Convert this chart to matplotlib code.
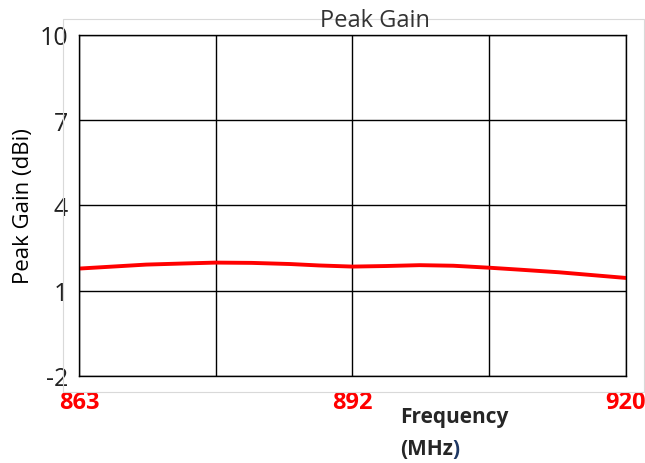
import matplotlib.pyplot as plt
from matplotlib.patches import Rectangle

freq = [863, 867, 870, 874, 877.25, 881, 885, 888, 891.5, 895, 898.5, 902, 905.75, 909, 913, 916.5, 920]
gain = [1.78, 1.86, 1.92, 1.96, 1.99, 1.98, 1.94, 1.89, 1.85, 1.87, 1.90, 1.88, 1.81, 1.74, 1.65, 1.55, 1.45]

x_ticks = [863, 891.5, 920]
x_labels = ['863', '892', '920']
y_ticks = [-2, 1, 4, 7, 10]

plt.rcParams['font.family'] = ['Open Sans', 'DejaVu Sans']
plt.rcParams['axes.unicode_minus'] = False

fig = plt.figure(figsize=(6.45, 4.64), dpi=100)
ax = fig.add_axes([0.1225, 0.1875, 0.848, 0.735])

# light frame around the chart area
fig.patches.append(Rectangle((63 / 645, 1 - 393 / 464), (644 - 63) / 645, (393 - 20) / 464,
                             transform=fig.transFigure, fill=False, edgecolor='#d9d9d9', lw=0.8))

ax.plot(freq, gain, color='#ff0000', lw=2.8)

ax.set_xlim(863, 920)
ax.set_ylim(-2, 10)
ax.set_yticks(y_ticks)
ax.set_xticks([863 + i * 14.25 for i in range(5)], minor=True)
ax.set_xticks(x_ticks)
ax.set_xticklabels(x_labels, color='#ff0000', fontweight='bold', fontsize=17)
ax.tick_params(axis='y', labelsize=18, length=0, pad=8, labelcolor='#222222')
ax.tick_params(axis='x', length=0, pad=10, which='both')
ax.grid(True, which='both', axis='x', color='black', lw=1)
ax.grid(True, axis='y', color='black', lw=1)
for s in ax.spines.values():
    s.set_color('black')
    s.set_linewidth(1)

ax.set_ylabel('Peak Gain (dBi)', fontsize=16, labelpad=4)
fig.text(375 / 645, 1 - 21 / 464, 'Peak Gain', ha='center', va='center', fontsize=17, color='#333333')
fig.text(400 / 645, 1 - 418 / 464, 'Frequency', ha='left', va='center', fontsize=15,
         fontweight='bold', color='#262626')
t = fig.text(400 / 645, 1 - 450 / 464, '(MHz', ha='left', va='center', fontsize=15,
             fontweight='bold', color='#262626')
fig.add_artist(plt.Annotation(')', xy=(1, 0.5), xycoords=t, va='center', ha='left', fontsize=15,
                              fontweight='bold', color='#1f3864'))

fig.savefig('out.png', dpi=100)
